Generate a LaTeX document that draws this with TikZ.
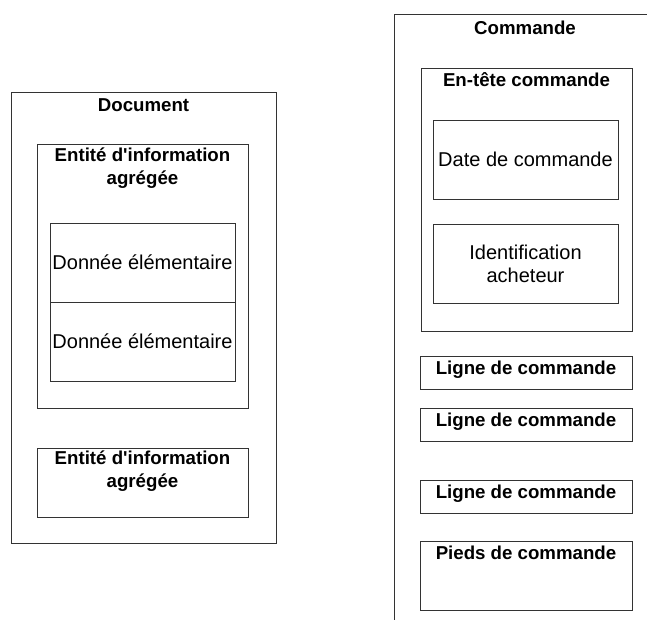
\documentclass[tikz,border=0pt]{standalone}
\usepackage{fontspec}
\setmainfont{Liberation Sans}
\begin{document}
\begin{tikzpicture}[x=0.75pt,y=-0.75pt,
  box/.style={draw=black!80,line width=0.7pt,rectangle,inner sep=0pt,fill=none},
  reg/.style={font=\fontsize{15}{17.25}\selectfont,align=center,inner sep=0pt,text=black},
  bld/.style={font=\fontsize{14}{17.25}\selectfont\bfseries,align=center,inner sep=0pt,text=black}]
\useasboundingbox (0,0) rectangle (647,620);
% Left: Document
\node[box,minimum width=198.75pt,minimum height=338.25pt] (doc) at (143.5,317.5) {};
\node[bld] (doct) at (143.5,105) {Document};
\node[box,minimum width=158.25pt,minimum height=198pt] (ent1) at (142.5,276) {};
\node[bld] (ent1t) at (142.5,168.5) {Entité d\textquotesingle information\\agrégée};
\node[box,reg,minimum width=138.75pt,minimum height=59.25pt] (don1) at (142.5,262.5) {Donnée élémentaire};
\node[box,reg,minimum width=138.75pt,minimum height=59.25pt] (don2) at (142.5,341.5) {Donnée élémentaire};
\node[box,minimum width=158.25pt,minimum height=51.75pt] (ent2) at (142.5,482.5) {};
\node[bld] (ent2t) at (142.5,471.5) {Entité d\textquotesingle information\\agrégée};
% Right: Commande (cropped)
\begin{scope}
\clip (0,0) rectangle (647,620);
\node[box,minimum width=225pt,minimum height=480pt] (cmd) at (544,334) {};
\end{scope}
\node[bld] (cmdt) at (525,28) {Commande};
\node[box,minimum width=158.25pt,minimum height=197.25pt] (ent) at (526.5,199.5) {};
\node[bld] (entt) at (526.5,80) {En-tête commande};
\node[box,reg,minimum width=138.75pt,minimum height=59.25pt] (date) at (525.5,159.5) {Date de commande};
\node[box,reg,minimum width=138.75pt,minimum height=59.25pt] (ident) at (525.5,263.5) {Identification\\acheteur};
\node[box,minimum width=159pt,minimum height=24.75pt] (l1) at (526,372.5) {};
\node[bld] (l1t) at (526,369.5) {Ligne de commande};
\node[box,minimum width=159pt,minimum height=24.75pt] (l2) at (526,424.5) {};
\node[bld] (l2t) at (526,421.5) {Ligne de commande};
\node[box,minimum width=159pt,minimum height=24.75pt] (l3) at (526,496.5) {};
\node[bld] (l3t) at (526,493.5) {Ligne de commande};
\node[box,minimum width=159pt,minimum height=51.75pt] (pied) at (526,575.5) {};
\node[bld] (piedt) at (526,553) {Pieds de commande};
\end{tikzpicture}
\end{document}
